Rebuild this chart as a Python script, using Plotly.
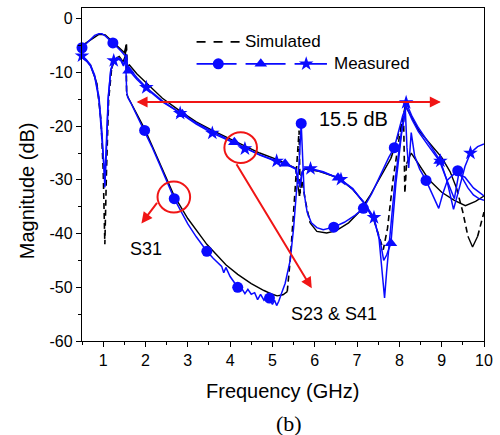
import plotly.graph_objects as go

# ---------------- data ----------------
# Measured S31 (blue, circles)
s31_meas = [(0.50,-5.4),(0.60,-4.6),(0.70,-3.8),(0.80,-3.1),(0.90,-2.8),(0.97,-2.8),(1.05,-3.2),(1.15,-3.9),
            (1.23,-4.5),(1.32,-5.2),(1.42,-6.0),(1.50,-6.6),(1.53,-7.0),(1.555,-13.5),(1.58,-14.6),(1.65,-15.6),
            (1.80,-18.0),(1.98,-20.8),(2.15,-23.8),(2.35,-27.4),(2.50,-30.3),(2.68,-33.5),(2.85,-36.0),(3.00,-38.2),
            (3.20,-40.6),(3.45,-43.3),(3.60,-44.6),(3.70,-45.4),(3.80,-46.1),(3.85,-47.3),(3.90,-46.3),(4.00,-48.0),
            (4.10,-49.1),(4.18,-50.0),(4.28,-50.3),(4.35,-51.2),(4.42,-50.4),(4.50,-51.3),(4.58,-51.0),(4.65,-52.3),
            (4.72,-51.3),(4.80,-52.4),(4.87,-51.8),(4.93,-52.0),(5.00,-53.2),(5.05,-52.4),(5.10,-53.4),(5.15,-52.6),
            (5.22,-51.0),(5.30,-49.3),(5.42,-45.0),(5.50,-39.0),(5.57,-32.0),(5.63,-27.0),(5.68,-19.5),(5.71,-24.5),
            (5.75,-32.5),(5.82,-36.0),(5.92,-38.0),(6.05,-38.9),(6.20,-39.3),(6.45,-38.8),(6.70,-37.9),(6.95,-36.6),
            (7.15,-35.3),(7.35,-32.5),(7.55,-29.0),(7.75,-25.8),(7.88,-24.0),(8.00,-20.5),(8.08,-18.0),(8.14,-16.8),
            (8.18,-24.0),(8.22,-27.8),(8.28,-21.2),(8.36,-25.5),(8.48,-28.0),(8.63,-30.1),(8.78,-32.8),(8.93,-35.3),
            (9.03,-32.5),(9.14,-30.0),(9.25,-29.2),(9.38,-28.3),(9.50,-29.8),(9.62,-31.5),(9.75,-32.8),(9.88,-33.5),
            (10.0,-33.8)]
s31_marker_f = [0.50, 1.23, 1.98, 2.68, 3.45, 4.18, 4.93, 5.68, 6.45, 7.15, 7.88, 8.63, 9.38]
s31_marker_db = [-5.4, -4.5, -20.8, -33.5, -43.3, -50.0, -52.0, -19.5, -38.8, -35.3, -24.0, -30.1, -28.3]

# Measured S23 (blue, triangles)
s23_meas = [(0.50,-7.2),(0.60,-7.8),(0.70,-8.8),(0.80,-10.8),(0.90,-15.0),(0.97,-21.5),(1.02,-27.5),(1.04,-30.0),
            (1.07,-25.0),(1.12,-14.5),(1.18,-9.6),(1.25,-8.0),(1.33,-7.4),(1.42,-7.8),(1.48,-8.8),(1.52,-7.5),
            (1.55,-7.0),(1.58,-9.8),(1.62,-9.7),(1.80,-11.3),(2.02,-13.0),(2.40,-15.5),(2.87,-17.8),(3.20,-19.4),
            (3.58,-21.0),(4.10,-23.0),(4.35,-24.0),(4.70,-25.4),(5.10,-26.6),(5.30,-27.0),(5.55,-28.0),(5.60,-30.0),
            (5.65,-31.0),(5.70,-28.5),(5.76,-27.9),(5.90,-28.0),(6.20,-28.6),(6.55,-29.6),(6.90,-31.6),(7.15,-34.2),
            (7.40,-37.5),(7.55,-41.5),(7.63,-45.0),(7.70,-44.0),(7.80,-41.8),(7.92,-30.5),(8.05,-21.5),(8.16,-16.3),
            (8.30,-18.8),(8.45,-21.0),(8.70,-23.8),(8.95,-26.5),(9.12,-30.0),(9.30,-33.5),(9.40,-29.0),(9.55,-29.5),
            (9.75,-31.5),(10.0,-33.0)]
s23_marker_f = [1.60, 2.87, 4.10, 5.30, 6.55, 7.80, 8.95]
s23_marker_db = [-9.7, -17.8, -23.0, -27.0, -29.6, -41.8, -26.5]

# Measured S41 (blue, stars)
s41_meas = [(0.50,-6.9),(0.60,-7.6),(0.70,-8.6),(0.80,-10.5),(0.90,-14.5),(0.97,-21.0),(1.02,-28.0),(1.04,-31.4),
            (1.07,-26.0),(1.12,-15.0),(1.18,-9.5),(1.25,-7.8),(1.33,-7.2),(1.42,-7.6),(1.48,-8.6),(1.52,-7.2),
            (1.55,-6.6),(1.58,-9.5),(1.62,-9.3),(1.80,-11.0),(2.02,-12.8),(2.40,-15.3),(2.82,-17.6),(3.20,-19.6),
            (3.58,-21.3),(4.00,-22.8),(4.35,-24.2),(4.70,-25.3),(5.10,-26.5),(5.40,-27.3),(5.55,-27.9),(5.60,-29.5),
            (5.65,-31.4),(5.70,-29.0),(5.76,-27.8),(5.90,-27.9),(6.20,-28.5),(6.62,-29.9),(6.90,-31.8),(7.15,-34.0),
            (7.40,-37.0),(7.52,-41.0),(7.60,-47.0),(7.65,-52.0),(7.70,-47.0),(7.78,-40.0),(7.90,-30.0),(8.05,-21.0),
            (8.16,-15.6),(8.30,-18.2),(8.45,-20.3),(8.70,-23.2),(8.97,-26.5),(9.12,-30.0),(9.28,-35.5),(9.40,-32.0),
            (9.55,-27.5),(9.68,-25.0),(9.85,-23.8),(10.0,-23.3)]
s41_marker_f = [0.50, 1.25, 2.02, 2.82, 3.58, 4.35, 5.10, 5.90, 6.62, 7.40, 8.16, 8.97, 9.68]
s41_marker_db = [-6.9, -7.8, -12.8, -17.6, -21.3, -24.2, -26.5, -27.9, -29.9, -37.0, -15.6, -26.5, -25.0]

# Simulated S31 (black)
s31_sim = [(0.50,-5.0),(0.70,-3.9),(0.90,-2.9),(1.05,-3.0),(1.23,-4.3),(1.40,-5.6),(1.50,-6.3),(1.54,-5.0),
           (1.555,-14.0),(1.60,-14.8),(1.98,-20.5),(2.68,-33.0),(3.00,-37.2),(3.45,-42.0),(3.90,-45.8),(4.18,-47.6),
           (4.50,-49.3),(4.80,-50.6),(5.00,-51.3),(5.11,-51.6),(5.25,-51.4),(5.35,-50.8),(5.42,-45.0),(5.50,-36.0),
           (5.57,-27.5),(5.63,-20.8),(5.655,-32.5),(5.70,-30.0),(5.78,-34.0),(5.89,-38.0),(6.05,-39.6),(6.28,-39.9),
           (6.50,-39.5),(6.80,-38.0),(7.05,-36.0),(7.30,-33.0),(7.55,-29.5),(7.80,-26.0),(8.00,-21.0),(8.10,-18.5),
           (8.13,-32.5),(8.17,-27.0),(8.28,-25.0),(8.45,-27.0),(8.70,-30.0),(9.00,-32.3),(9.30,-33.8),(9.56,-34.8),
           (9.80,-34.0),(10.0,-33.0)]

# Simulated S23 & S41 (black)
s2341_sim = [(0.50,-7.0),(0.70,-8.6),(0.85,-12.0),(0.95,-19.0),(1.00,-28.0),(1.04,-42.0),(1.08,-28.0),(1.13,-15.0),
             (1.20,-9.3),(1.28,-7.5),(1.38,-7.0),(1.47,-8.0),(1.52,-7.0),(1.55,-4.8),(1.57,-8.8),(1.62,-8.6),
             (1.80,-10.3),(2.02,-12.0),(2.40,-14.8),(2.82,-17.2),(3.20,-19.2),(3.58,-20.8),(4.00,-22.4),(4.35,-23.8),
             (4.70,-25.0),(5.10,-26.2),(5.40,-27.2),(5.55,-27.8),(5.60,-31.0),(5.64,-33.0),(5.68,-29.0),(5.76,-28.0),
             (6.10,-28.4),(6.55,-29.6),(6.90,-31.8),(7.20,-34.6),(7.40,-37.5),(7.52,-40.5),(7.62,-43.0),(7.72,-39.0),
             (7.85,-30.0),(8.00,-22.0),(8.14,-16.2),(8.30,-18.6),(8.46,-20.8),(8.75,-23.5),(9.00,-25.8),(9.20,-28.5),
             (9.35,-31.5),(9.50,-36.0),(9.62,-40.5),(9.73,-42.5),(9.85,-40.5),(10.0,-36.0)]

x_tick_vals = [1, 2, 3, 4, 5, 6, 7, 8, 9, 10]
y_tick_vals = [0, -10, -20, -30, -40, -50, -60]
y_tick_text = ["0", "-10", "-20", "-30", "-40", "-50", "-60"]

# ---------------- styling ----------------
BLUE = "#0a0aff"
RED = "#f01515"
FONT = "Liberation Sans, Arial, sans-serif"
X_RANGE = [0.5, 10]
Y_RANGE = [-60, 2]
PX_PER_X = 407 / (X_RANGE[1] - X_RANGE[0])
PX_PER_Y = 334 / (Y_RANGE[1] - Y_RANGE[0])


def unzip(pairs):
    return [p[0] for p in pairs], [p[1] for p in pairs]


def split_steep(xs, ys):
    """Origin-like look: dense segments look solid, steep long segments show the dash."""
    out = {"solid": ([], []), "dash": ([], [])}
    for i in range(len(xs) - 1):
        dxp = abs(xs[i + 1] - xs[i]) * PX_PER_X
        dyp = abs(ys[i + 1] - ys[i]) * PX_PER_Y
        key = "dash" if (dyp > 12 and dyp > 3 * dxp) else "solid"
        tx, ty = out[key]
        if tx and tx[-1] == xs[i] and ty[-1] == ys[i]:
            tx.append(xs[i + 1]); ty.append(ys[i + 1])
        else:
            if tx:
                tx.append(None); ty.append(None)
            tx += [xs[i], xs[i + 1]]; ty += [ys[i], ys[i + 1]]
    return out


fig = go.Figure()

# simulated (black)
for pairs in (s31_sim, s2341_sim):
    xs, ys = unzip(pairs)
    parts = split_steep(xs, ys)
    fig.add_trace(go.Scatter(x=parts["solid"][0], y=parts["solid"][1], mode="lines",
                             line=dict(color="black", width=1.4), showlegend=False, hoverinfo="skip"))
    fig.add_trace(go.Scatter(x=parts["dash"][0], y=parts["dash"][1], mode="lines",
                             line=dict(color="black", width=1.6, dash="6px,4px"), showlegend=False,
                             hoverinfo="skip"))

# measured (blue)
measured = [
    (s31_meas, s31_marker_f, s31_marker_db, "circle", 11),
    (s23_meas, s23_marker_f, s23_marker_db, "triangle-up", 11),
    (s41_meas, s41_marker_f, s41_marker_db, "star", 11),
]
for pairs, mf, mdb, sym, size in measured:
    xs, ys = unzip(pairs)
    fig.add_trace(go.Scatter(x=xs, y=ys, mode="lines", line=dict(color=BLUE, width=1.5),
                             showlegend=False, hoverinfo="skip"))
    fig.add_trace(go.Scatter(x=mf, y=mdb, mode="markers",
                             marker=dict(symbol=sym, size=size, color=BLUE, line=dict(width=0)),
                             showlegend=False, hoverinfo="skip", cliponaxis=False))

# ---------------- hand-drawn legend (pixel overlay axes) ----------------
fig.add_trace(go.Scatter(x=[198, 243], y=[41, 41], mode="lines", xaxis="x2", yaxis="y2",
                         line=dict(color="black", width=1.6, dash="9px,8px"), showlegend=False, hoverinfo="skip"))
fig.add_trace(go.Scatter(x=[198, 330], y=[63, 63], mode="lines", xaxis="x2", yaxis="y2",
                         line=dict(color=BLUE, width=1.6, dash="40px,9px"), showlegend=False, hoverinfo="skip"))
for px, sym, size in [(220, "circle", 11), (263, "triangle-up", 11), (309, "star", 11)]:
    fig.add_trace(go.Scatter(x=[px], y=[63], mode="markers", xaxis="x2", yaxis="y2",
                             marker=dict(symbol=sym, size=size, color=BLUE, line=dict(width=0)),
                             showlegend=False, hoverinfo="skip"))

annotations = [
    dict(x=245, y=41, xref="x2", yref="y2", text="Simulated", showarrow=False, xanchor="left",
         yanchor="middle", font=dict(size=17, color="black", family=FONT)),
    dict(x=335, y=63, xref="x2", yref="y2", text="Measured", showarrow=False, xanchor="left",
         yanchor="middle", font=dict(size=17, color="black", family=FONT)),
    # red notes
    dict(x=6.92, y=-18.6, xref="x", yref="y", text="15.5 dB", showarrow=False,
         font=dict(size=20, color="black", family=FONT)),
    dict(x=2.02, y=-42.8, xref="x", yref="y", text="S31", showarrow=False,
         font=dict(size=18, color="black", family=FONT)),
    dict(x=6.45, y=-55.0, xref="x", yref="y", text="S23 &amp; S41", showarrow=False,
         font=dict(size=18, color="black", family=FONT)),
    # double arrow (each arrow spans the full length so no gap remains)
    dict(x=1.79, y=-15.5, ax=8.98, ay=-15.5, xref="x", yref="y", axref="x", ayref="y", text="",
         showarrow=True, arrowhead=2, arrowsize=1.1, arrowwidth=2, arrowcolor=RED),
    dict(x=8.98, y=-15.5, ax=1.79, ay=-15.5, xref="x", yref="y", axref="x", ayref="y", text="",
         showarrow=True, arrowhead=2, arrowsize=1.1, arrowwidth=2, arrowcolor=RED),
    # pointer arrows
    dict(x=1.905, y=-38.1, ax=2.30, ay=-34.0, xref="x", yref="y", axref="x", ayref="y", text="",
         showarrow=True, arrowhead=2, arrowsize=1.1, arrowwidth=2, arrowcolor=RED),
    dict(x=5.93, y=-50.2, ax=4.13, ay=-26.8, xref="x", yref="y", axref="x", ayref="y", text="",
         showarrow=True, arrowhead=2, arrowsize=1.1, arrowwidth=2, arrowcolor=RED),
    # axis titles and caption
    dict(x=0.499, y=-0.150, xref="paper", yref="paper", text="Frequency (GHz)", showarrow=False,
         xanchor="center", yanchor="middle", font=dict(size=20, color="black", family=FONT)),
    dict(x=-0.135, y=0.452, xref="paper", yref="paper", text="Magnitude (dB)", showarrow=False,
         textangle=-90, xanchor="center", yanchor="middle", font=dict(size=20, color="black", family=FONT)),
    dict(x=0.516, y=-0.2485, xref="paper", yref="paper", text="(b)", showarrow=False,
         xanchor="center", yanchor="middle",
         font=dict(size=22, color="black", family="Liberation Serif, Times New Roman, serif")),
]

shapes = []
for cx, cy in [(2.67, -33.2), (4.25, -24.0)]:
    shapes.append(dict(type="circle", xref="x", yref="y", x0=cx - 0.385, x1=cx + 0.385,
                       y0=cy - 2.88, y1=cy + 2.88, line=dict(color=RED, width=2)))

fig.update_layout(
    width=500, height=435,
    margin=dict(l=82, r=11, t=7, b=94),
    paper_bgcolor="white", plot_bgcolor="white",
    font=dict(family=FONT, color="black"),
    showlegend=False,
    annotations=annotations,
    shapes=shapes,
    xaxis=dict(range=X_RANGE, tickvals=x_tick_vals, ticks="outside", ticklen=5, tickwidth=1.3,
               tickcolor="black", showline=True, linecolor="black", linewidth=1.3, mirror=True,
               showgrid=False, zeroline=False, tickfont=dict(size=16),
               minor=dict(ticks="outside", ticklen=3, tickwidth=1.2, tickcolor="black", dtick=0.5,
                          tick0=0.5, showgrid=False)),
    yaxis=dict(range=Y_RANGE, tickvals=y_tick_vals, ticktext=y_tick_text, ticks="outside", ticklen=5,
               tickwidth=1.3, tickcolor="black", showline=True, linecolor="black", linewidth=1.3,
               mirror=True, showgrid=False, zeroline=False, tickfont=dict(size=16),
               minor=dict(ticks="outside", ticklen=3, tickwidth=1.2, tickcolor="black", dtick=5,
                          tick0=0, showgrid=False)),
    xaxis2=dict(overlaying="x", range=[82, 489], visible=False, fixedrange=True),
    yaxis2=dict(overlaying="y", range=[341, 7], visible=False, fixedrange=True),
)

fig.write_html("out.html")
